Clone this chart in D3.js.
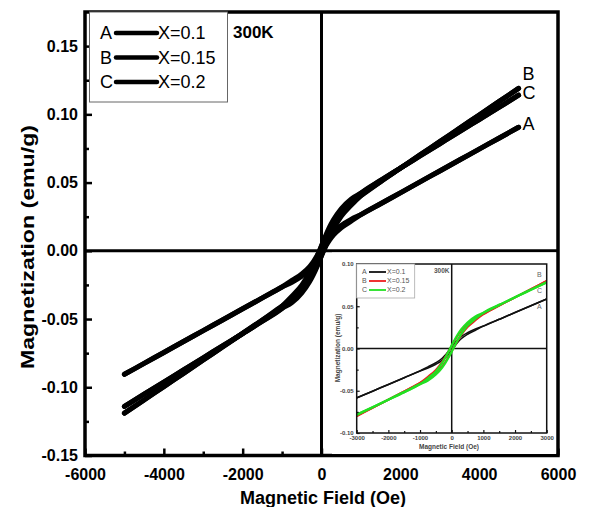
<!DOCTYPE html>
<html><head><meta charset="utf-8">
<script src="https://cdn.jsdelivr.net/npm/d3@7"></script>
<style>body{margin:0;background:#fff}svg{display:block}text{font-family:"Liberation Sans",Arial,sans-serif}</style>
</head><body><svg id="c" width="590" height="507"></svg>
<script>
// ---- data ----
const fieldOe = [-5000,-4500,-4000,-3500,-3000,-2500,-2000,-1500,-1000,-750,-500,-300,-200,-100,0,100,200,300,500,750,1000,1500,2000,2500,3000,3500,4000,4500,5000];
const sampleNames = ["A","B","C"];
const sampleLabels = ["X=0.1","X=0.15","X=0.2"];
// descending (upper) and ascending (lower) branches of each loop
const upperA = [-0.0905,-0.0825,-0.0745,-0.0665,-0.0585,-0.0505,-0.0425,-0.0345,-0.0265,-0.0217,-0.0169,-0.0115,-0.0077,-0.0030,0.0020,0.0068,0.0108,0.0140,0.0186,0.0230,0.0265,0.0345,0.0425,0.0505,0.0585,0.0665,0.0745,0.0825,0.0905];
const lowerA = [-0.0905,-0.0825,-0.0745,-0.0665,-0.0585,-0.0505,-0.0425,-0.0345,-0.0265,-0.0230,-0.0186,-0.0140,-0.0108,-0.0068,-0.0020,0.0030,0.0077,0.0115,0.0169,0.0217,0.0265,0.0345,0.0425,0.0505,0.0585,0.0665,0.0745,0.0825,0.0905];
const upperB = [-0.1190,-0.1093,-0.0995,-0.0898,-0.0800,-0.0703,-0.0605,-0.0507,-0.0405,-0.0333,-0.0252,-0.0157,-0.0098,-0.0034,0.0034,0.0098,0.0157,0.0208,0.0288,0.0359,0.0405,0.0507,0.0605,0.0703,0.0800,0.0898,0.0995,0.1093,0.1190];
const lowerB = [-0.1190,-0.1093,-0.0995,-0.0898,-0.0800,-0.0703,-0.0605,-0.0507,-0.0405,-0.0359,-0.0288,-0.0208,-0.0157,-0.0098,-0.0034,0.0034,0.0098,0.0157,0.0252,0.0333,0.0405,0.0507,0.0605,0.0703,0.0800,0.0898,0.0995,0.1093,0.1190];
const upperC = [-0.1140,-0.1051,-0.0962,-0.0873,-0.0784,-0.0695,-0.0606,-0.0516,-0.0422,-0.0353,-0.0271,-0.0171,-0.0107,-0.0037,0.0037,0.0107,0.0171,0.0225,0.0308,0.0379,0.0422,0.0516,0.0606,0.0695,0.0784,0.0873,0.0962,0.1051,0.1140];
const lowerC = [-0.1140,-0.1051,-0.0962,-0.0873,-0.0784,-0.0695,-0.0606,-0.0516,-0.0422,-0.0379,-0.0308,-0.0225,-0.0171,-0.0107,-0.0037,0.0037,0.0107,0.0171,0.0271,0.0353,0.0422,0.0516,0.0606,0.0695,0.0784,0.0873,0.0962,0.1051,0.1140];
const xTicksMain = [-6000,-4000,-2000,0,2000,4000,6000];
const xMinorMain = [-5000,-3000,-1000,1000,3000,5000];
const yTicksMain = [-0.15,-0.10,-0.05,0.00,0.05,0.10,0.15];
const yMinorMain = [-0.125,-0.075,-0.025,0.025,0.075,0.125];
const xTicksInset = [-3000,-2000,-1000,0,1000,2000,3000];
const xMinorInset = [-2500,-1500,-500,500,1500,2500];
const yTicksInset = [-0.10,-0.05,0.00,0.05,0.10];
const yMinorInset = [-0.075,-0.025,0.025,0.075];
const insetColors = ["#111111","#ee1c1c","#22e022"];

const branches = [[upperA,lowerA],[upperB,lowerB],[upperC,lowerC]];
const svg = d3.select("#c");
const hyph = f => (d => f(d).replace("\u2212","-"));

// ---- main chart ----
const x = d3.scaleLinear().domain([-6000,6000]).range([85,558]);
const y = d3.scaleLinear().domain([-0.15,0.175]).range([455.5,12]);

svg.append("line").attr("x1",x(0)).attr("x2",x(0)).attr("y1",y.range()[1]).attr("y2",y.range()[0]).attr("stroke","#000").attr("stroke-width",3);
svg.append("line").attr("x1",x.range()[0]).attr("x2",x.range()[1]).attr("y1",y(0)).attr("y2",y(0)).attr("stroke","#000").attr("stroke-width",3);

const line = d3.line().x(d=>x(d[0])).y(d=>y(d[1])).curve(d3.curveMonotoneX);
branches.forEach(br=>{
  br.forEach(vals=>{
    svg.append("path").datum(fieldOe.map((h,i)=>[h,vals[i]])).attr("d",line)
      .attr("fill","none").attr("stroke","#000").attr("stroke-width",5).attr("stroke-linecap","round");
  });
});

const endLabelY = [124,74,93];
sampleNames.forEach((n,i)=>{
  svg.append("text").attr("x",x(5000)+4).attr("y",endLabelY[i]).attr("dy","0.35em")
    .attr("font-size",18).text(n);
});

const yAxis = d3.axisLeft(y).tickValues(yTicksMain).tickSize(-7).tickPadding(7).tickFormat(hyph(d3.format(".2f")));
const gy = svg.append("g").attr("transform",`translate(${x.range()[0]},0)`).call(yAxis);
const yAxisMinor = d3.axisLeft(y).tickValues(yMinorMain).tickSize(-4).tickFormat("");
const gym = svg.append("g").attr("transform",`translate(${x.range()[0]},0)`).call(yAxisMinor);
const xAxis = d3.axisBottom(x).tickValues(xTicksMain).tickSize(-7).tickPadding(13).tickFormat(hyph(d3.format("d")));
const gx = svg.append("g").attr("transform",`translate(0,${y.range()[0]})`).call(xAxis);
const xAxisMinor = d3.axisBottom(x).tickValues(xMinorMain).tickSize(-4).tickFormat("");
const gxm = svg.append("g").attr("transform",`translate(0,${y.range()[0]})`).call(xAxisMinor);
[gy,gym,gx,gxm].forEach(g=>{
  g.select(".domain").remove();
  g.selectAll(".tick line").attr("stroke","#000").attr("stroke-width",2.5);
  g.selectAll("text").attr("font-size",16).attr("font-weight","bold").attr("fill","#000")
   .style("font-family","'Liberation Sans',Arial,sans-serif");
});

svg.append("rect").attr("x",x.range()[0]).attr("y",y.range()[1]).attr("width",x.range()[1]-x.range()[0])
  .attr("height",y.range()[0]-y.range()[1]).attr("fill","none").attr("stroke","#000").attr("stroke-width",3.5);

svg.append("text").attr("x",323).attr("y",498).attr("dy","0.35em").attr("text-anchor","middle")
  .attr("font-size",18).attr("font-weight","bold").text("Magnetic Field (Oe)");
svg.append("text").attr("transform","translate(27,247) rotate(-90)").attr("dy","0.35em").attr("text-anchor","middle")
  .attr("font-size",19).attr("font-weight","bold").attr("textLength",244).attr("lengthAdjust","spacingAndGlyphs")
  .text("Magnetization (emu/g)");

// legend
svg.append("rect").attr("x",89.5).attr("y",12).attr("width",138).attr("height",90)
  .attr("fill","#fff").attr("stroke","#666").attr("stroke-width",1);
sampleNames.forEach((n,i)=>{
  const cy = 33 + i*24.5;
  svg.append("text").attr("x",100).attr("y",cy).attr("dy","0.35em").attr("font-size",18).text(n);
  svg.append("line").attr("x1",116).attr("x2",157).attr("y1",cy).attr("y2",cy).attr("stroke","#000").attr("stroke-width",4.5).attr("stroke-linecap","round");
  svg.append("text").attr("x",158).attr("y",cy).attr("dy","0.35em").attr("font-size",18).text(sampleLabels[i]);
});
svg.append("text").attr("x",233).attr("y",32).attr("dy","0.35em").attr("font-size",17).attr("font-weight","bold").text("300K");

// ---- inset ----
const xi = d3.scaleLinear().domain([-3000,3000]).range([356.7,546.7]);
const yi = d3.scaleLinear().domain([-0.10,0.10]).range([433,264]);
svg.append("rect").attr("x",332).attr("y",252.5).attr("width",224).attr("height",201.5).attr("fill","#fff");
svg.append("defs").append("clipPath").attr("id","ic").append("rect")
  .attr("x",xi.range()[0]).attr("y",yi.range()[1]).attr("width",xi.range()[1]-xi.range()[0]).attr("height",yi.range()[0]-yi.range()[1]);
const gi = svg.append("g");
gi.append("line").attr("x1",xi(0)).attr("x2",xi(0)).attr("y1",yi.range()[1]).attr("y2",yi.range()[0]).attr("stroke","#111").attr("stroke-width",1.5);
gi.append("line").attr("x1",xi.range()[0]).attr("x2",xi.range()[1]).attr("y1",yi(0)).attr("y2",yi(0)).attr("stroke","#111").attr("stroke-width",1.5);
const linei = d3.line().x(d=>xi(d[0])).y(d=>yi(d[1])).curve(d3.curveMonotoneX);
const gc = gi.append("g").attr("clip-path","url(#ic)");
const insetWidths = [1.6,1.9,2.3];
branches.forEach((br,k)=>{
  br.forEach(vals=>{
    gc.append("path").datum(fieldOe.map((h,i)=>[h,vals[i]])).attr("d",linei)
      .attr("fill","none").attr("stroke",insetColors[k]).attr("stroke-width",insetWidths[k]);
  });
});
const ixAxis = d3.axisBottom(xi).tickValues(xTicksInset).tickSize(-3).tickPadding(3).tickFormat(hyph(d3.format("d")));
const ixAxisM = d3.axisBottom(xi).tickValues(xMinorInset).tickSize(-2).tickFormat("");
const iyAxis = d3.axisLeft(yi).tickValues(yTicksInset).tickSize(-3).tickPadding(3).tickFormat(hyph(d3.format(".2f")));
const iyAxisM = d3.axisLeft(yi).tickValues(yMinorInset).tickSize(-2).tickFormat("");
const gix = gi.append("g").attr("transform",`translate(0,${yi.range()[0]})`).call(ixAxis);
const gixm = gi.append("g").attr("transform",`translate(0,${yi.range()[0]})`).call(ixAxisM);
const giy = gi.append("g").attr("transform",`translate(${xi.range()[0]},0)`).call(iyAxis);
const giym = gi.append("g").attr("transform",`translate(${xi.range()[0]},0)`).call(iyAxisM);
[gix,gixm,giy,giym].forEach(g=>{
  g.select(".domain").remove();
  g.selectAll(".tick line").attr("stroke","#111").attr("stroke-width",1.2);
  g.selectAll("text").attr("font-size",6).attr("font-weight","bold").attr("fill","#444")
   .style("font-family","'Liberation Sans',Arial,sans-serif");
});
gi.append("rect").attr("x",xi.range()[0]).attr("y",yi.range()[1]).attr("width",xi.range()[1]-xi.range()[0])
  .attr("height",yi.range()[0]-yi.range()[1]).attr("fill","none").attr("stroke","#111").attr("stroke-width",1.5);
gi.append("text").attr("x",449).attr("y",446.5).attr("dy","0.35em").attr("text-anchor","middle")
  .attr("font-size",6.5).attr("font-weight","bold").attr("fill","#444").text("Magnetic Field (Oe)");
gi.append("text").attr("transform","translate(338,348) rotate(-90)").attr("dy","0.35em").attr("text-anchor","middle")
  .attr("font-size",6.5).attr("font-weight","bold").attr("fill","#444").text("Magnetization (emu/g)");
// inset legend
gi.append("rect").attr("x",xi.range()[0]).attr("y",yi.range()[1]).attr("width",58).attr("height",34)
  .attr("fill","#fff").attr("stroke","#aaa").attr("stroke-width",0.8);
sampleNames.forEach((n,i)=>{
  const cy = 272 + i*9;
  gi.append("text").attr("x",362).attr("y",cy).attr("dy","0.35em").attr("font-size",7).attr("fill","#555").text(n);
  gi.append("line").attr("x1",369).attr("x2",386).attr("y1",cy).attr("y2",cy).attr("stroke",insetColors[i]).attr("stroke-width",1.8);
  gi.append("text").attr("x",387).attr("y",cy).attr("dy","0.35em").attr("font-size",7).attr("fill","#555").text(sampleLabels[i]);
});
gi.append("text").attr("x",434).attr("y",271).attr("dy","0.35em").attr("font-size",6.5).attr("font-weight","bold").attr("fill","#555").text("300K");
const insetEndY = [307,275,291];
sampleNames.forEach((n,i)=>{
  gi.append("text").attr("x",537).attr("y",insetEndY[i]).attr("dy","0.35em").attr("font-size",7).attr("fill","#666").text(n);
});
</script></body></html>
